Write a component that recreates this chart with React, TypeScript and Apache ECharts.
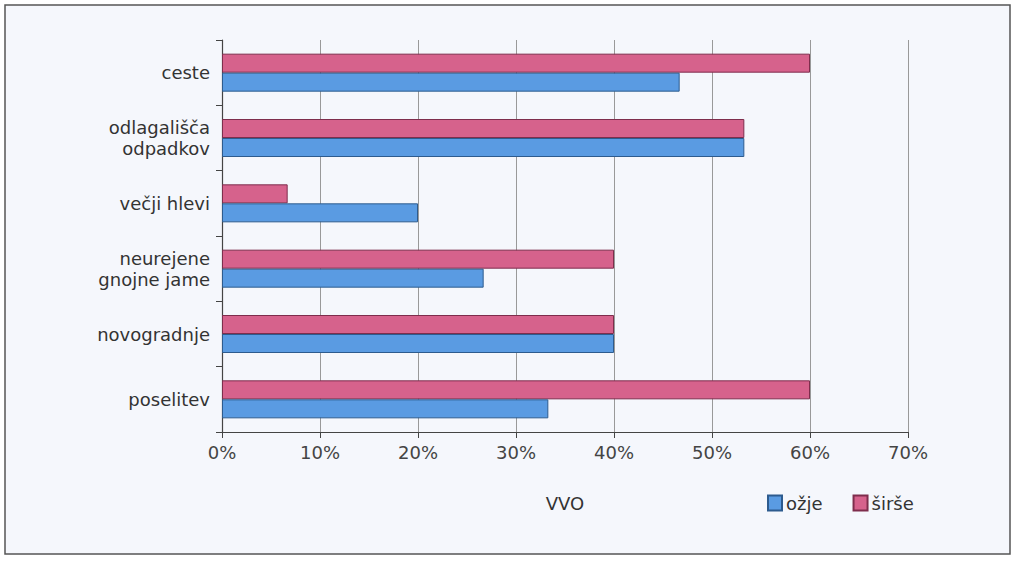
import React, { useEffect, useRef } from "react";
import * as echarts from "echarts";

const categories = [
  "poselitev",
  "novogradnje",
  "neurejene\ngnojne jame",
  "večji hlevi",
  "odlagališča\nodpadkov",
  "ceste",
];
const ozje = [33.3, 40, 26.7, 20, 53.3, 46.7];
const sirse = [60, 40, 40, 6.7, 53.3, 60];
const seriesNames = ["ožje", "širše"];
const axisTitle = "VVO";

const FONT = "'DejaVu Sans', 'Noto Sans', sans-serif";

export default function App() {
  const ref = useRef<HTMLDivElement>(null);
  useEffect(() => {
    document.body.style.margin = "0";
    const chart = echarts.init(ref.current!, null, { renderer: "svg" });
    chart.setOption({
      animation: false,
      backgroundColor: "#ffffff",
      graphic: [
        {
          type: "rect",
          shape: { x: 5, y: 5, width: 1005, height: 549 },
          style: { fill: "#f5f7fc", stroke: "#555555", lineWidth: 1.5 },
          z: -10,
          silent: true,
        },
      ],
      grid: { left: 222, right: 108, top: 40, bottom: 129, containLabel: false },
      xAxis: {
        type: "value",
        min: 0,
        max: 70,
        interval: 10,
        name: axisTitle,
        nameLocation: "middle",
        nameGap: 62,
        nameTextStyle: { color: "#333", fontSize: 18, fontFamily: FONT },
        axisLine: { show: true, lineStyle: { color: "#444", width: 1.2 } },
        axisTick: { show: true, length: 6, lineStyle: { color: "#444" } },
        axisLabel: {
          color: "#444",
          fontSize: 18,
          fontFamily: FONT,
          margin: 11,
          formatter: (v: number) => v + "%",
        },
        splitLine: { show: true, lineStyle: { color: "#999", width: 1 } },
      },
      yAxis: {
        type: "category",
        data: categories,
        axisLine: { show: true, lineStyle: { color: "#444", width: 1.2 } },
        axisTick: { show: true, length: 6, lineStyle: { color: "#444" } },
        axisLabel: {
          color: "#333",
          fontSize: 18,
          fontFamily: FONT,
          margin: 12,
          lineHeight: 21,
        },
      },
      legend: {
        data: seriesNames,
        left: 762,
        top: 489,
        itemWidth: 14,
        itemHeight: 15,
        itemGap: 30,
        icon: "rect",
        textStyle: { color: "#333", fontSize: 18, fontFamily: FONT, padding: [0, 0, 0, -1] },
      },
      series: [
        {
          name: seriesNames[1],
          type: "bar",
          data: sirse,
          barWidth: 19,
          barGap: "0%",
          itemStyle: { color: "#d6628c", borderColor: "#7e2d4c", borderWidth: 1 },
        },
        {
          name: seriesNames[0],
          type: "bar",
          data: ozje,
          barWidth: 19,
          barGap: "0%",
          itemStyle: { color: "#5a9be2", borderColor: "#2d5b8e", borderWidth: 1 },
        },
      ],
    });
    return () => chart.dispose();
  }, []);
  return (
    <div
      ref={ref}
      style={{ position: "absolute", left: 0, top: 0, width: 1016, height: 561 }}
    />
  );
}
